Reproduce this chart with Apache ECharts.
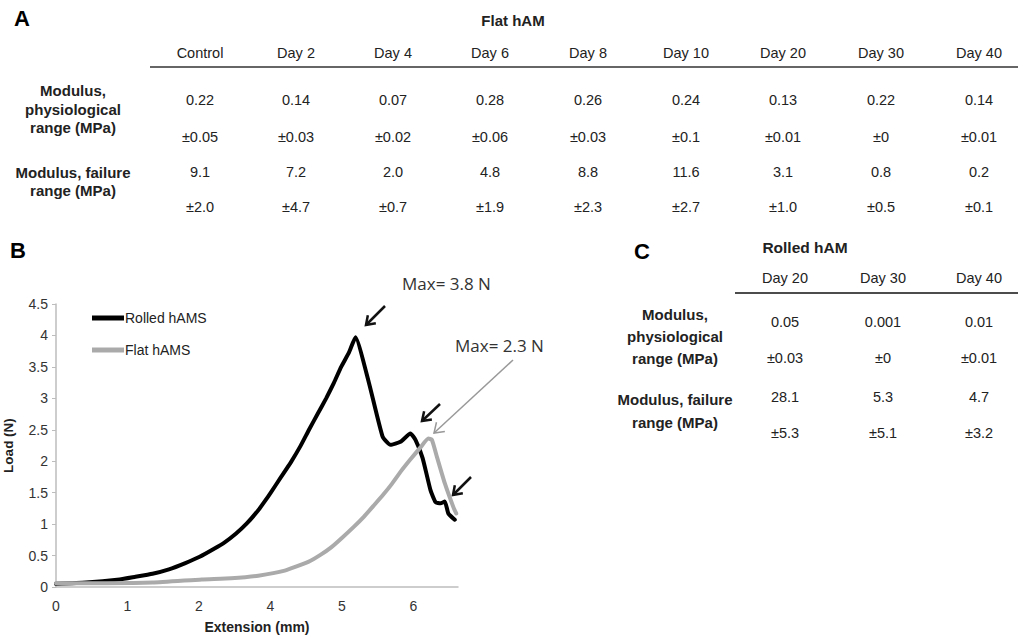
<!DOCTYPE html>
<html>
<head>
<meta charset="utf-8">
<script src="https://cdn.jsdelivr.net/npm/echarts@6/dist/echarts.min.js"></script>
<style>
html,body{margin:0;padding:0;background:#fff;}
#c{width:1018px;height:635px;}
</style>
</head>
<body>
<div id="c"></div>
<script>
// ---------- DATA ----------
// Table A: Flat hAM
const flatTitle = 'Flat hAM';
const flatCols = ['Control','Day 2','Day 4','Day 6','Day 8','Day 10','Day 20','Day 30','Day 40'];
const flatPhysMean = ['0.22','0.14','0.07','0.28','0.26','0.24','0.13','0.22','0.14'];
const flatPhysSd   = ['±0.05','±0.03','±0.02','±0.06','±0.03','±0.1','±0.01','±0','±0.01'];
const flatFailMean = ['9.1','7.2','2.0','4.8','8.8','11.6','3.1','0.8','0.2'];
const flatFailSd   = ['±2.0','±4.7','±0.7','±1.9','±2.3','±2.7','±1.0','±0.5','±0.1'];
// Table C: Rolled hAM
const rolledTitle = 'Rolled hAM';
const rolledCols = ['Day 20','Day 30','Day 40'];
const rolledPhysMean = ['0.05','0.001','0.01'];
const rolledPhysSd   = ['±0.03','±0','±0.01'];
const rolledFailMean = ['28.1','5.3','4.7'];
const rolledFailSd   = ['±5.3','±5.1','±3.2'];
const rowPhysLabel = ['Modulus,','physiological','range (MPa)'];
const rowFailLabel = ['Modulus, failure','range (MPa)'];
// Chart B: load vs extension (x in axis positions; tick labels as printed)
const xTickLabels = ['0','1','2','4','5','6'];
const rolledX = [0,0.42,0.89,1.10,1.35,1.58,1.81,2.01,2.20,2.36,2.52,2.67,2.83,2.92,3.01,3.15,3.29,3.42,3.54,3.66,3.78,3.89,3.99,4.10,4.19,4.38,4.57,4.68,4.82,4.96,5.03,5.13,5.24,5.31,5.38,5.44,5.49,5.58];
const rolledY = [0.05,0.07,0.12,0.16,0.21,0.28,0.38,0.48,0.60,0.71,0.85,1.01,1.22,1.36,1.51,1.75,1.99,2.24,2.50,2.75,3.00,3.25,3.50,3.73,3.97,3.24,2.39,2.26,2.31,2.44,2.34,2.05,1.54,1.35,1.33,1.36,1.17,1.07];
const flatX = [0,0.70,1.35,2.04,2.45,2.83,3.20,3.53,3.70,3.85,4.00,4.17,4.31,4.45,4.58,4.70,4.82,4.96,5.10,5.21,5.26,5.33,5.44,5.56,5.60];
const flatY = [0.06,0.06,0.07,0.12,0.14,0.18,0.26,0.40,0.51,0.63,0.78,0.96,1.12,1.30,1.47,1.64,1.83,2.03,2.22,2.36,2.34,2.07,1.65,1.27,1.17];
const seriesNames = ['Rolled hAMS','Flat hAMS'];
const yTicks = {min:0, max:4.5, interval:0.5};
const annotations = ['Max= 3.8 N','Max= 2.3 N'];
const panelLetters = ['A','B','C'];

// ---------- LAYOUT ----------
const chart = echarts.init(document.getElementById('c'), null, {renderer:'svg'});
const FONT = '"Liberation Sans", Arial, sans-serif';
const txtCol = '#222';
const g = [];
function T(x,y,s,opt){
  opt = opt || {};
  g.push({type:'text', x:x, y:y, silent:true, style:{
    text:s, fill:opt.fill||txtCol, font:(opt.weight||'normal')+' '+(opt.size||14.5)+'px '+(opt.family||FONT),
    textAlign:opt.align||'center', textVerticalAlign:'middle'}});
}
function L(x1,y1,x2,y2,color,w){
  g.push({type:'line', silent:true, shape:{x1:x1,y1:y1,x2:x2,y2:y2}, style:{stroke:color,lineWidth:w}});
}

// Panel letters
T(22,18,panelLetters[0],{weight:'bold',size:22,fill:'#000'});
T(18,250,panelLetters[1],{weight:'bold',size:22,fill:'#000'});
T(642,251,panelLetters[2],{weight:'bold',size:22,fill:'#000'});

// Table A
const fx = [200,296,393,490,588,686,783,881,979];
T(513,20,flatTitle,{weight:'bold',size:15});
flatCols.forEach((c,i)=>T(fx[i],53,c));
L(150,67,1018,67,'#666',2);
flatPhysMean.forEach((v,i)=>T(fx[i],100,v));
flatPhysSd.forEach((v,i)=>T(fx[i],137,v));
flatFailMean.forEach((v,i)=>T(fx[i],172,v));
flatFailSd.forEach((v,i)=>T(fx[i],207,v));
[90,109,127].forEach((y,i)=>T(73,y,rowPhysLabel[i],{weight:'bold',size:15}));
[172,190].forEach((y,i)=>T(73,y,rowFailLabel[i],{weight:'bold',size:15}));

// Table C
const rx = [785,883,979];
T(805,247,rolledTitle,{weight:'bold',size:15.5});
rolledCols.forEach((c,i)=>T(rx[i],278,c));
L(735,293,1018,293,'#111',1.5);
rolledPhysMean.forEach((v,i)=>T(rx[i],322,v));
rolledPhysSd.forEach((v,i)=>T(rx[i],358,v));
rolledFailMean.forEach((v,i)=>T(rx[i],397,v));
rolledFailSd.forEach((v,i)=>T(rx[i],433,v));
[314,336,358].forEach((y,i)=>T(675,y,rowPhysLabel[i],{weight:'bold',size:15}));
[399,422].forEach((y,i)=>T(675,y,rowFailLabel[i],{weight:'bold',size:15}));

// Annotations
const ANN = '"Open Sans", sans-serif';
T(402,283,annotations[0],{size:17,family:ANN,align:'left',fill:'#333'});
T(455,345,annotations[1],{size:17,family:ANN,align:'left',fill:'#333'});
function arrow(x1,y1,x2,y2,color,w,hl){
  const a = Math.atan2(y2-y1,x2-x1);
  const s = 0.6;
  g.push({type:'polyline', silent:true, shape:{points:[[x1,y1],[x2,y2]]}, style:{stroke:color,lineWidth:w,fill:null}});
  g.push({type:'polyline', silent:true, shape:{points:[
    [x2-hl*Math.cos(a-s), y2-hl*Math.sin(a-s)],[x2,y2],[x2-hl*Math.cos(a+s), y2-hl*Math.sin(a+s)]]},
    style:{stroke:color,lineWidth:w,fill:null,lineJoin:'miter'}});
}
arrow(385,306,366,325,'#111',2.5,10);
arrow(440,404,422,421,'#111',2.5,10);
arrow(471,477,453,495,'#111',2.5,10);
arrow(513,360,434,433,'#999',1.5,11);

const option = {
  animation:false,
  backgroundColor:'#fff',
  grid:{left:53, top:304, width:405, height:283, containLabel:false},
  legend:{
    data:seriesNames, orient:'vertical', left:92, top:311, itemGap:18, padding:0,
    icon:'rect', itemWidth:32, itemHeight:5,
    textStyle:{fontFamily:FONT, fontSize:14, color:'#222', padding:[0,0,0,-4]}
  },
  xAxis:{
    type:'value', min:0, max:5.625, interval:1,
    name:'Extension (mm)', nameLocation:'middle', nameGap:33,
    nameTextStyle:{fontFamily:FONT, fontSize:14, fontWeight:'bold', color:'#222'},
    axisLine:{lineStyle:{color:'#bdbdbd', width:1.5}},
    axisTick:{show:false}, splitLine:{show:false},
    axisLabel:{fontFamily:FONT, fontSize:14, color:'#333', margin:12, showMaxLabel:false,
      formatter:v => (Number.isInteger(v) && xTickLabels[v] !== undefined) ? xTickLabels[v] : ''}
  },
  yAxis:{
    type:'value', min:yTicks.min, max:yTicks.max, interval:yTicks.interval,
    name:'Load (N)', nameLocation:'middle', nameGap:41, nameRotate:90,
    nameTextStyle:{fontFamily:FONT, fontSize:13.5, fontWeight:'bold', color:'#222'},
    axisLine:{show:true, lineStyle:{color:'#bdbdbd', width:1.5}},
    axisTick:{show:true, length:4, lineStyle:{color:'#bdbdbd'}},
    splitLine:{show:false},
    axisLabel:{fontFamily:FONT, fontSize:14, color:'#333', margin:8}
  },
  series:[
    {name:seriesNames[0], type:'line', showSymbol:false, color:'#000', smooth:0.15,
     lineStyle:{width:4, color:'#000', join:'round', cap:'round'}, data:rolledX.map((x,i)=>[x,rolledY[i]]), z:2},
    {name:seriesNames[1], type:'line', showSymbol:false, color:'#aaaaaa', smooth:0.15,
     lineStyle:{width:4, color:'#aaaaaa', join:'round', cap:'round'}, data:flatX.map((x,i)=>[x,flatY[i]]), z:3}
  ],
  graphic:g
};
chart.setOption(option);
</script>
</body>
</html>
